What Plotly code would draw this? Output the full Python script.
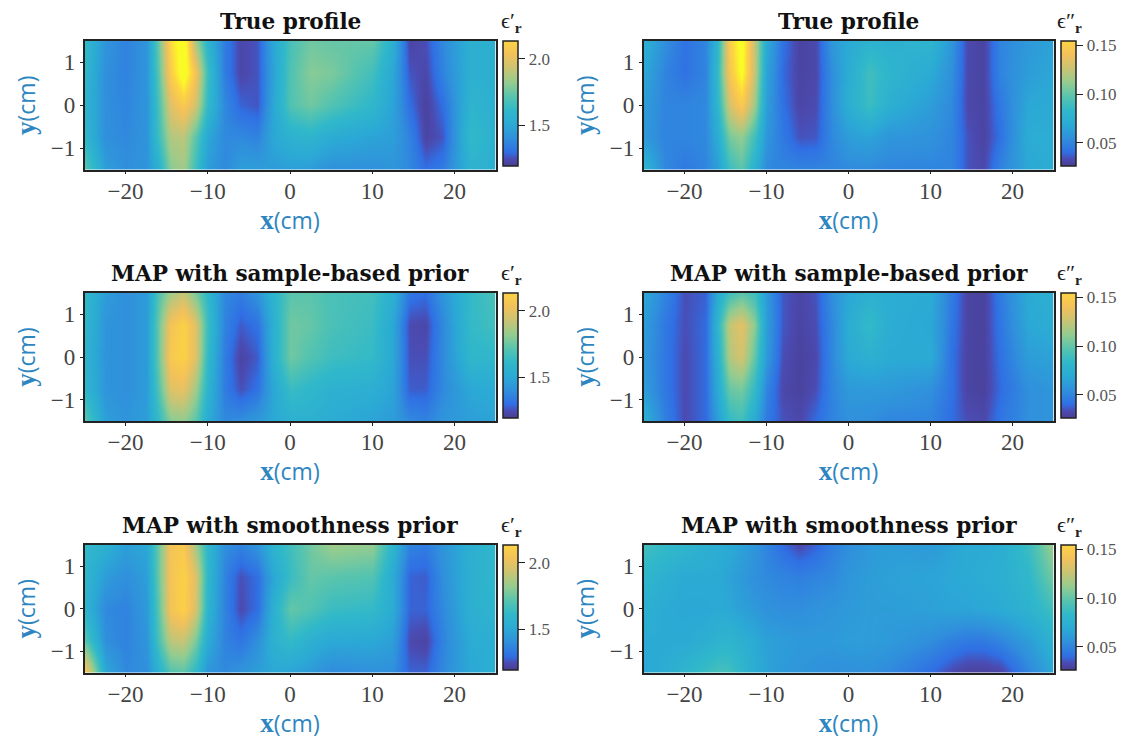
import plotly.graph_objects as go

X = [-25,-22.5,-20,-17.5,-16,-14.5,-13,-11.5,-10,-8,-6,-4,-2,0,2.5,5,10,12.5,14.5,16.5,18.5,22,25]
Y = [1.5,0.75,0,-0.75,-1.5]

true_re = [
 [1.62,1.42,1.36,1.42,1.75,2.15,2.32,1.85,1.58,1.34,1.23,1.26,1.50,1.68,1.76,1.74,1.74,1.55,1.22,1.25,1.38,1.55,1.55],
 [1.60,1.40,1.36,1.42,1.72,2.10,2.30,2.05,1.65,1.34,1.23,1.26,1.48,1.70,1.80,1.78,1.66,1.50,1.26,1.23,1.36,1.55,1.55],
 [1.58,1.40,1.37,1.42,1.68,1.98,2.08,1.95,1.62,1.38,1.28,1.26,1.50,1.70,1.76,1.70,1.60,1.48,1.30,1.21,1.30,1.58,1.55],
 [1.60,1.40,1.38,1.42,1.65,1.88,1.90,1.72,1.50,1.38,1.38,1.36,1.50,1.56,1.58,1.52,1.48,1.46,1.36,1.22,1.26,1.62,1.55],
 [1.72,1.46,1.40,1.42,1.55,1.80,1.85,1.65,1.45,1.38,1.46,1.46,1.45,1.46,1.45,1.40,1.40,1.42,1.38,1.30,1.34,1.56,1.55],
]
sample_re = [
 [1.62,1.45,1.40,1.45,1.70,1.85,1.92,1.78,1.60,1.38,1.34,1.42,1.58,1.72,1.72,1.68,1.66,1.55,1.32,1.30,1.42,1.62,1.68],
 [1.60,1.42,1.40,1.45,1.75,2.05,2.12,1.98,1.65,1.36,1.27,1.31,1.55,1.76,1.74,1.68,1.64,1.50,1.24,1.23,1.38,1.62,1.66],
 [1.58,1.42,1.40,1.45,1.75,2.08,2.12,1.98,1.62,1.34,1.22,1.27,1.55,1.76,1.70,1.65,1.62,1.50,1.25,1.25,1.38,1.60,1.60],
 [1.60,1.42,1.40,1.45,1.70,1.98,2.00,1.85,1.58,1.34,1.25,1.31,1.50,1.64,1.60,1.56,1.54,1.48,1.27,1.27,1.38,1.50,1.52],
 [1.72,1.46,1.42,1.46,1.62,1.80,1.82,1.72,1.52,1.38,1.40,1.44,1.50,1.55,1.55,1.52,1.48,1.45,1.38,1.36,1.42,1.46,1.48],
]
smooth_re = [
 [1.62,1.55,1.46,1.50,1.75,2.05,2.08,1.85,1.60,1.40,1.36,1.42,1.58,1.66,1.76,1.84,1.82,1.58,1.36,1.34,1.42,1.55,1.60],
 [1.60,1.45,1.40,1.46,1.75,2.05,2.12,1.98,1.60,1.36,1.25,1.30,1.50,1.64,1.74,1.72,1.70,1.52,1.28,1.27,1.40,1.55,1.60],
 [1.58,1.38,1.36,1.44,1.72,2.05,2.12,1.96,1.58,1.36,1.24,1.30,1.55,1.74,1.70,1.64,1.62,1.52,1.28,1.28,1.38,1.55,1.58],
 [1.72,1.40,1.36,1.42,1.68,1.90,1.92,1.78,1.52,1.36,1.32,1.40,1.56,1.62,1.55,1.50,1.50,1.46,1.24,1.22,1.36,1.52,1.54],
 [2.10,1.50,1.38,1.40,1.55,1.70,1.72,1.60,1.42,1.38,1.42,1.46,1.50,1.48,1.44,1.38,1.40,1.40,1.28,1.28,1.38,1.50,1.54],
]
true_im = [
 [.075,.055,.042,.05,.08,.15,.175,.125,.07,.042,.03,.032,.06,.07,.078,.075,.08,.058,.032,.03,.05,.06,.065],
 [.068,.05,.042,.05,.085,.145,.172,.125,.065,.04,.03,.032,.055,.072,.09,.08,.07,.055,.032,.03,.05,.062,.068],
 [.062,.05,.05,.052,.08,.13,.148,.115,.062,.042,.031,.033,.055,.074,.088,.074,.062,.052,.032,.03,.045,.068,.07],
 [.06,.05,.05,.052,.072,.105,.112,.09,.058,.045,.035,.036,.052,.062,.065,.058,.056,.05,.035,.03,.042,.072,.072],
 [.08,.052,.045,.05,.062,.088,.098,.075,.052,.05,.05,.05,.05,.052,.052,.05,.05,.05,.035,.032,.05,.068,.072],
]
sample_im = [
 [.068,.05,.034,.038,.07,.09,.098,.09,.06,.036,.031,.035,.055,.068,.075,.072,.07,.046,.03,.029,.046,.07,.075],
 [.062,.045,.034,.04,.08,.125,.135,.11,.062,.036,.03,.034,.052,.072,.085,.072,.068,.044,.03,.029,.044,.068,.072],
 [.06,.045,.033,.04,.075,.12,.13,.10,.06,.034,.029,.032,.052,.07,.075,.07,.07,.042,.03,.029,.042,.062,.065],
 [.062,.045,.033,.04,.07,.102,.105,.085,.05,.032,.029,.034,.05,.06,.06,.06,.055,.042,.03,.029,.04,.055,.058],
 [.075,.048,.033,.04,.062,.085,.09,.07,.045,.035,.032,.04,.05,.055,.054,.05,.05,.04,.034,.032,.044,.055,.058],
]
smooth_im = [
 [.09,.085,.08,.075,.072,.07,.065,.058,.05,.04,.032,.038,.048,.054,.06,.062,.06,.066,.07,.07,.072,.088,.115],
 [.082,.075,.07,.07,.07,.065,.06,.055,.052,.05,.048,.05,.052,.058,.062,.064,.066,.068,.07,.072,.074,.082,.105],
 [.075,.07,.068,.068,.07,.068,.064,.06,.056,.054,.054,.056,.058,.06,.062,.062,.064,.066,.066,.068,.07,.078,.09],
 [.07,.07,.07,.074,.078,.08,.075,.07,.064,.062,.06,.06,.06,.062,.062,.06,.054,.048,.045,.045,.05,.062,.078],
 [.068,.072,.08,.088,.092,.09,.082,.072,.066,.06,.058,.056,.054,.055,.055,.052,.04,.032,.028,.028,.03,.05,.068],
]

TITLES = ["True profile", "MAP with sample-based prior", "MAP with smoothness prior"]
X_TICKS = [-20,-10,0,10,20]
Y_TICKS = [-1,0,1]

W, H = 1125, 741
ALPHA = 0.9
# (position along the scale, colour)
PARULA = [(0,(53,42,135)),(.05,(55,55,170)),(.1,(25,95,225)),(.2,(25,132,216)),(.3,(20,160,208)),
          (.4,(25,176,196)),(.5,(70,190,165)),(.6,(135,198,132)),(.7,(195,190,100)),
          (.8,(240,186,73)),(.9,(253,206,46)),(1,(249,251,14))]
def rgb(c, a=1.0):
    return "rgb(%d,%d,%d)" % tuple(round(a*v + (1-a)*255) for v in c)
HEAT = [[t, rgb(c, ALPHA)] for t, c in PARULA]
BAR = [[t/0.9, rgb(c, ALPHA)] for t, c in PARULA[:-1]]

INK = "#222222"
TICK_COL = "#444444"
BLUE = "#2e86c1"
SERIF = "Liberation Serif"
TITLE_SERIF = "DejaVu Serif"
SANS = "Open Sans"

COLS = [
    dict(panels=[true_re, sample_re, smooth_re], x0=84.5, x1=495.5, cb=503,
         lo=1.192, hi=2.134, cbticks=[1.5, 2.0], cbtext=["1.5", "2.0"], sym="ϵ′"),
    dict(panels=[true_im, sample_im, smooth_im], x0=643.5, x1=1053.5, cb=1061,
         lo=0.0263, hi=0.1545, cbticks=[0.05, 0.10, 0.15], cbtext=["0.05", "0.10", "0.15"], sym="ϵ″"),
]
ROWS = [(41, 169.5), (293, 421), (545, 672.5)]

fig = go.Figure()
ann = []
n = 0
label = lambda s: (f'<span style="font-size:27px"><b>{s}</b></span>'
                   f'<span style="font-family:{SANS}">(cm)</span>')
for col in COLS:
    zmax = col["lo"] + (col["hi"] - col["lo"]) / 0.9
    for (top, bot), z, title in zip(ROWS, col["panels"], TITLES):
        n += 1
        sx = "" if n == 1 else str(n)
        fig.add_trace(go.Heatmap(x=X, y=Y, z=z, zmin=col["lo"], zmax=zmax, colorscale=HEAT,
                                 zsmooth="best", showscale=False, xaxis="x"+sx, yaxis="y"+sx))
        fig.add_trace(go.Scatter(
            x=[None, None], y=[None, None], mode="markers", xaxis="x"+sx, yaxis="y"+sx, showlegend=False,
            marker=dict(color=[col["lo"], col["hi"]], cmin=col["lo"], cmax=col["hi"], colorscale=BAR,
                        showscale=True,
                        colorbar=dict(x=col["cb"]/W, xanchor="left", y=1-top/H, yanchor="top",
                                      xref="paper", yref="paper",
                                      len=125/H, lenmode="fraction", thickness=15, thicknessmode="pixels",
                                      xpad=0, ypad=0, outlinewidth=1.5, outlinecolor=INK,
                                      ticks="outside", ticklen=7, tickwidth=1, tickcolor=INK,
                                      tickvals=col["cbticks"], ticktext=col["cbtext"],
                                      tickfont=dict(family=SERIF, size=17, color="#555555")))))
        common = dict(showgrid=False, zeroline=False, showline=True, mirror=True, linecolor=INK, linewidth=1.5,
                      ticks="outside", ticklen=3, tickwidth=1, tickcolor=INK,
                      tickfont=dict(family=SERIF, size=23, color=TICK_COL))
        fig.update_layout({
            "xaxis"+sx: dict(domain=[col["x0"]/W, col["x1"]/W], range=[-25, 25], anchor="y"+sx,
                             tickvals=X_TICKS, ticklabelstandoff=-3, title=dict(text=label("x"), standoff=6,
                             font=dict(family=SERIF, size=23, color=BLUE)), **common),
            "yaxis"+sx: dict(domain=[1-bot/H, 1-top/H], range=[-1.5, 1.5], anchor="x"+sx,
                             tickvals=Y_TICKS, title=dict(text=label("y"), standoff=9,
                             font=dict(family=SERIF, size=23, color=BLUE)), **common),
        })
        ann.append(dict(text=f"<b>{title}</b>", xref="paper", yref="paper", x=(col["x0"]+col["x1"])/2/W,
                        y=1-(top-5)/H, xanchor="center", yanchor="bottom", showarrow=False,
                        font=dict(family=TITLE_SERIF, size=21.6, color="#111111")))
        ann.append(dict(text=f"{col['sym']}<sub><b>r</b></sub>", xref="paper", yref="paper",
                        x=(col["cb"]+8)/W, y=1-(top-3)/H, xanchor="center", yanchor="bottom",
                        showarrow=False, font=dict(family=SERIF, size=22, color="#222222")))

fig.update_layout(width=W, height=H, margin=dict(l=0, r=0, t=0, b=0), paper_bgcolor="white",
                  plot_bgcolor="white", showlegend=False, annotations=ann)
fig.write_html("out.html", post_script="document.body.style.margin='0';",
               config=dict(displayModeBar=False))
